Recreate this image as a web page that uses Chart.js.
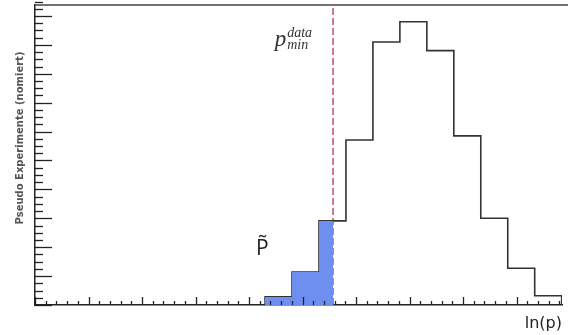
<!DOCTYPE html>
<html>
<head>
<meta charset="utf-8">
<script src="https://cdn.jsdelivr.net/npm/chart.js@4.4.1/dist/chart.umd.min.js"></script>
<style>
  html, body { margin: 0; padding: 0; background: #fff; }
  #wrap { width: 568px; height: 335px; }
</style>
</head>
<body>
<div id="wrap"><canvas id="histChart"></canvas></div>
<script>
const binEdges = [4.30, 4.804, 5.308, 5.812, 6.316, 6.82, 7.324, 7.828, 8.332, 8.836, 9.34, 9.844];
const binCounts = [0.28, 1.14, 2.91, 5.71, 9.10, 9.80, 8.80, 5.85, 3.00, 1.27, 0.32];
const pMinData = 5.57;   // observed value, dashed line

const xRange = [0, 9.85];
const yRange = [0, 10.38];
const xTicks = { major: 1, minor: 0.2 };
const yTicks = { major: 1, minor: 0.25 };

// outline: each point is the left edge of a bin, starting and ending on the axis
const outlinePoints = [{ x: binEdges[0], y: 0 }];
binCounts.forEach((c, i) => outlinePoints.push({ x: binEdges[i], y: c }));
outlinePoints.push({ x: binEdges[binEdges.length - 1], y: 0 });

// shaded part left of p_min^data
const shadedPoints = [{ x: binEdges[0], y: 0 }];
let lastCount = 0;
binCounts.forEach((c, i) => {
    if (binEdges[i] < pMinData) {
        shadedPoints.push({ x: binEdges[i], y: c });
        lastCount = c;
    }
});
shadedPoints.push({ x: pMinData, y: lastCount });

const dashPoints = [{ x: pMinData, y: yRange[0] }, { x: pMinData, y: yRange[1] }];

// ROOT-style inward ticks, frame line and labels
const decorPlugin = {
    id: 'decor',
    afterDatasetsDraw(chart) {
        const ctx = chart.ctx;
        const { left, right, top, bottom } = chart.chartArea;
        const xs = chart.scales.x, ys = chart.scales.y;
        ctx.save();
        ctx.strokeStyle = '#222';
        ctx.lineWidth = 1.3;

        // x ticks
        const nx = Math.round((xRange[1] - xRange[0]) / xTicks.minor);
        const xRatio = Math.round(xTicks.major / xTicks.minor);
        for (let i = 0; i <= nx; i++) {
            const px = Math.round(xs.getPixelForValue(xRange[0] + i * xTicks.minor)) + 0.5;
            const len = i % xRatio === 0 ? 8 : 4;
            ctx.beginPath();
            ctx.moveTo(px, bottom);
            ctx.lineTo(px, bottom - len);
            ctx.stroke();
        }
        // y ticks
        const ny = Math.round((yRange[1] - yRange[0]) / yTicks.minor);
        const yRatio = Math.round(yTicks.major / yTicks.minor);
        for (let i = 0; i <= ny; i++) {
            const py = Math.round(ys.getPixelForValue(yRange[0] + i * yTicks.minor)) + 0.5;
            const len = i % yRatio === 0 ? 17 : 8;
            ctx.beginPath();
            ctx.moveTo(left, py);
            ctx.lineTo(left + len, py);
            ctx.stroke();
        }

        // top frame
        ctx.strokeStyle = '#444';
        ctx.lineWidth = 1.5;
        ctx.beginPath();
        ctx.moveTo(left, top);
        ctx.lineTo(chart.width, top);
        ctx.stroke();

        // y title
        ctx.save();
        ctx.translate(20, 138);
        ctx.rotate(-Math.PI / 2);
        ctx.font = 'bold 10px "DejaVu Sans"';
        ctx.fillStyle = '#555';
        ctx.textAlign = 'center';
        ctx.textBaseline = 'middle';
        ctx.fillText('Pseudo Experimente (nomiert)', 0, 0);
        ctx.restore();

        // P tilde label
        ctx.font = '21px "Open Sans"';
        ctx.fillStyle = '#222';
        ctx.textAlign = 'center';
        ctx.textBaseline = 'alphabetic';
        ctx.fillText('P\u0303', xs.getPixelForValue(4.25), ys.getPixelForValue(1.73));

        // p_min^data label
        const px0 = xs.getPixelForValue(4.48);
        const pyBase = ys.getPixelForValue(8.95);
        ctx.textAlign = 'left';
        ctx.fillStyle = '#333';
        ctx.font = 'italic 23px "Liberation Serif"';
        ctx.fillText('p', px0, pyBase);
        const pw = ctx.measureText('p').width;
        ctx.font = 'italic 14px "Liberation Serif"';
        ctx.fillText('data', px0 + pw + 1, pyBase - 9);
        ctx.fillText('min', px0 + pw + 1, pyBase + 3);
        ctx.restore();
    }
};

const ctx = document.getElementById('histChart').getContext('2d');
new Chart(ctx, {
    type: 'line',
    data: {
        datasets: [
            {
                data: shadedPoints,
                stepped: 'before',
                fill: 'origin',
                backgroundColor: '#6e8ff0',
                borderWidth: 0,
                pointRadius: 0
            },
            {
                data: outlinePoints,
                stepped: 'before',
                fill: false,
                borderColor: '#333',
                borderWidth: 1.6,
                pointRadius: 0
            },
            {
                data: dashPoints,
                fill: false,
                borderColor: '#b3445a',
                borderWidth: 1.4,
                borderDash: [7, 3],
                pointRadius: 0
            }
        ]
    },
    options: {
        responsive: true,
        maintainAspectRatio: false,
        animation: false,
        layout: { padding: { top: 5, right: 6, left: 0, bottom: 0 } },
        plugins: { legend: { display: false }, tooltip: { enabled: false } },
        scales: {
            x: {
                type: 'linear',
                min: xRange[0],
                max: xRange[1],
                ticks: { display: false },
                grid: { display: false },
                border: { display: true, color: '#222', width: 1.5 },
                title: {
                    display: true,
                    text: 'ln(p)',
                    align: 'end',
                    color: '#222',
                    font: { family: 'DejaVu Sans', size: 16 },
                    padding: { top: 0, bottom: 2 }
                },
                afterFit: scale => { scale.height = 30; }
            },
            y: {
                type: 'linear',
                min: yRange[0],
                max: yRange[1],
                ticks: { display: false },
                grid: { display: false },
                border: { display: true, color: '#222', width: 1.5 },
                afterFit: scale => { scale.width = 35; }
            }
        }
    },
    plugins: [decorPlugin]
});
</script>
</body>
</html>
